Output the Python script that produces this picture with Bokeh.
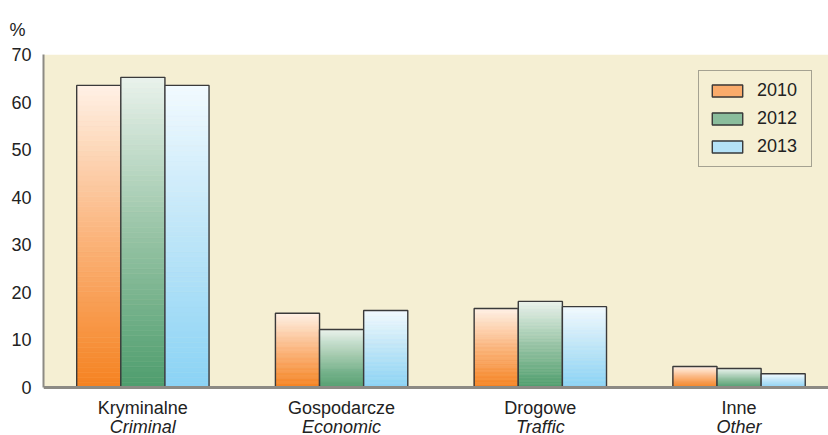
from bokeh.plotting import figure
from bokeh.models import (ColumnDataSource, Range1d, FixedTicker, Legend,
                          LegendItem, BoxAnnotation, Span)
from bokeh.core.properties import value
from bokeh.embed import file_html
from bokeh.resources import INLINE

# Crime categories (Polish / English) and shares per year, in %
categories = ["Kryminalne", "Gospodarcze", "Drogowe", "Inne"]
categories_en = ["Criminal", "Economic", "Traffic", "Other"]
years = ["2010", "2012", "2013"]
share_2010 = [63.5, 15.6, 16.6, 4.4]
share_2012 = [65.2, 12.2, 18.1, 4.0]
share_2013 = [63.5, 16.2, 17.0, 2.9]
y_ticks = [0, 10, 20, 30, 40, 50, 60, 70]

series = [share_2010, share_2012, share_2013]
# vertical gradient stops per series: bottom, middle, top
gradients = [
    ("#F58220", "#FBB47C", "#FFF1E6"),
    ("#4E9D6D", "#98C4A6", "#E9F2EC"),
    ("#8AD3F5", "#BDE5F8", "#F2FAFF"),
]

FONT = "Liberation Sans"
FSIZE = "18px"
TXT = "#222222"
BG = "#F5EFD3"
AXIS_GRAY = "#8c8a84"
N_SLICES = 60
BAR_W = 0.222
LEGEND_T = 0.4      # gradient position used for the legend swatch
Y_MAX = 70
PLOT_H = 333        # pixel height of the 0..70 band
LABEL_H = 48        # pixel room under the band for category names
PX = Y_MAX / PLOT_H  # data units per pixel


def hex_to_rgb(h):
    h = h.lstrip("#")
    return tuple(int(h[i:i + 2], 16) for i in (0, 2, 4))


def blend(c0, c1, t):
    a, b = hex_to_rgb(c0), hex_to_rgb(c1)
    return "#%02x%02x%02x" % tuple(round(a[i] + (b[i] - a[i]) * t) for i in range(3))


def grad_color(stops, t):
    if t < 0.5:
        return blend(stops[0], stops[1], t / 0.5)
    return blend(stops[1], stops[2], (t - 0.5) / 0.5)


p = figure(width=828, height=435, output_backend="svg", toolbar_location=None,
           x_range=Range1d(0, 3.95), y_range=Range1d(-LABEL_H * PX, Y_MAX),
           min_border_left=43, min_border_right=0, min_border_top=54,
           min_border_bottom=0, x_axis_location=None, y_axis_location="left")
p.background_fill_color = "white"
p.border_fill_color = "white"
p.outline_line_color = None

# cream plotting band from 0 to 70 %
p.add_layout(BoxAnnotation(bottom=0, top=Y_MAX, fill_color=BG, fill_alpha=1,
                           line_color=None, level="underlay"))

p.title.text = "%"
p.title.text_font = FONT
p.title.text_font_size = FSIZE
p.title.text_font_style = "normal"
p.title.text_color = TXT
p.title.align = "left"
p.title.vertical_align = "top"
p.title.offset = -34
p.title.standoff = 25

# y axis
p.yaxis.ticker = FixedTicker(ticks=y_ticks)
p.yaxis.bounds = (0, Y_MAX)
p.yaxis.major_label_text_font = FONT
p.yaxis.major_label_text_font_size = FSIZE
p.yaxis.major_label_text_color = TXT
p.yaxis.major_tick_line_color = None
p.yaxis.major_tick_out = 0
p.yaxis.major_tick_in = 0
p.yaxis.minor_tick_line_color = None
p.yaxis.axis_line_color = AXIS_GRAY
p.yaxis.axis_line_width = 2
p.yaxis.major_label_standoff = 12

p.ygrid.ticker = FixedTicker(ticks=y_ticks[1:])
p.ygrid.grid_line_color = "#4a4a44"
p.ygrid.grid_line_width = 1.3
p.xgrid.grid_line_color = None

centers = [i + 0.5 for i in range(len(categories))]

legend_items = []
for s, (vals, stops) in enumerate(zip(series, gradients)):
    offset = (s - 1) * BAR_W
    left, right, bottom, top, color = [], [], [], [], []
    # first row carries the swatch colour used by the legend
    k_legend = int(LEGEND_T * N_SLICES)
    order = [k_legend] + [k for k in range(N_SLICES) if k != k_legend]
    for c, v in zip(centers, vals):
        for k in order:
            left.append(c + offset - BAR_W / 2)
            right.append(c + offset + BAR_W / 2)
            bottom.append(v * k / N_SLICES)
            top.append(v * (k + 1) / N_SLICES)
            color.append(grad_color(stops, (k + 0.5) / N_SLICES))
    src = ColumnDataSource(dict(left=left, right=right, bottom=bottom, top=top, color=color))
    fill = p.quad(left="left", right="right", bottom="bottom", top="top", source=src,
                  fill_color="color", line_color="color", line_width=0.6)
    outline_src = ColumnDataSource(dict(x=[c + offset for c in centers], top=vals))
    outline = p.vbar(x="x", top="top", width=BAR_W, bottom=0, source=outline_src,
                     fill_alpha=0, line_color="#3a3a3a", line_width=1.4)
    legend_items.append(LegendItem(label=years[s], renderers=[fill, outline], index=0))

# baseline at 0 %
p.add_layout(Span(location=0, dimension="width", line_color=AXIS_GRAY, line_width=3))

# category names: Polish, English in italics underneath
p.text(x=centers, y=[-10 * PX] * len(centers), text=categories,
       text_align="center", text_baseline="top", text_font=value(FONT),
       text_font_size=value(FSIZE), text_color=TXT)
p.text(x=centers, y=[-29 * PX] * len(centers), text=categories_en,
       text_align="center", text_baseline="top", text_font=value(FONT),
       text_font_size=value(FSIZE), text_font_style="italic", text_color=TXT)

legend = Legend(items=legend_items, location=(655, 220 + LABEL_H))
legend.label_text_font = FONT
legend.label_text_font_size = FSIZE
legend.label_text_color = TXT
legend.glyph_width = 38
legend.glyph_height = 15
legend.label_standoff = 11
legend.label_width = 45
legend.spacing = 7
legend.padding = 9
legend.margin = 0
legend.background_fill_color = BG
legend.background_fill_alpha = 1
legend.border_line_color = "#555550"
legend.border_line_width = 1.5
p.add_layout(legend, "center")

open("out.html", "w").write(file_html(p, INLINE))
